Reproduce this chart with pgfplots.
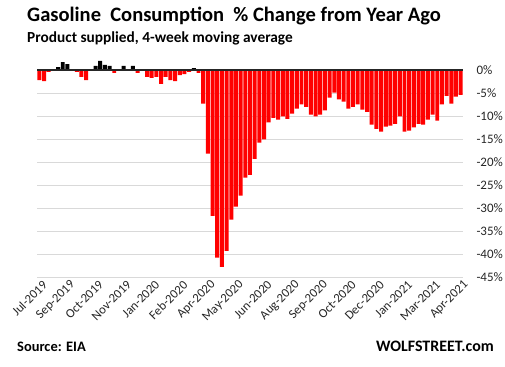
\documentclass[border=0pt]{standalone}
\usepackage{pgfplots}
\pgfplotsset{compat=1.18}
\usepackage{fontspec}
\setmainfont{Carlito}
\definecolor{gridgray}{HTML}{D9D9D9}
\definecolor{barred}{HTML}{FF0000}
\begin{document}
\begin{tikzpicture}[x=1bp,y=1bp]
\path[use as bounding box] (0,0) rectangle (505,366);
\begin{axis}[
  at={(37bp,89bp)}, anchor=south west,
  scale only axis, width=426bp, height=218.5bp,
  xmin=-0.5, xmax=90.5, ymin=-45, ymax=2.5,
  axis line style={draw=none},
  major tick length=0pt,
  ytick={-45,-40,-35,-30,-25,-20,-15,-10,-5,0},
  yticklabels={-45\%,-40\%,-35\%,-30\%,-25\%,-20\%,-15\%,-10\%,-5\%,0\%},
  yticklabel pos=right,
  yticklabel style={anchor=west, xshift=10bp, font=\fontsize{13}{13}\selectfont, text=black!85},
  ymajorgrids, grid style={draw=gridgray, line width=0.9bp},
  xtick={0,6,...,90},
  xticklabels={Jul-2019,Sep-2019,Oct-2019,Nov-2019,Jan-2020,Feb-2020,Apr-2020,May-2020,Jun-2020,Aug-2020,Sep-2020,Oct-2020,Dec-2020,Jan-2021,Mar-2021,Apr-2021},
  xticklabel style={rotate=45, anchor=east, yshift=-8bp, xshift=1bp, inner sep=1pt, font=\fontsize{12.8}{12.8}\selectfont, text=black!85},
  clip=false,
]
\addplot[ybar, bar width=0.85, bar shift=0pt, fill=black, draw=none] coordinates {
(4,0.65) (5,1.7) (6,1.3) (12,0.9) (13,2.0) (14,1.1) (15,0.9) (18,0.9) (20,0.9) (33,0.4)
};
\addplot[ybar, bar width=0.85, bar shift=0pt, fill=barred, draw=none] coordinates {
(0,-2.2) (1,-2.4) (2,-0.4) (8,-0.4) (9,-1.5) (10,-2.2) (16,-0.6) (21,-0.6)
(23,-1.5) (24,-1.7) (25,-1.5) (26,-3.0) (27,-1.5) (28,-2.2) (29,-2.4) (30,-1.1)
(31,-0.9) (32,-0.4) (34,-0.65) (35,-7.3) (36,-18.2) (37,-31.7) (38,-40.8) (39,-42.8)
(40,-39.3) (41,-32.5) (42,-29.7) (43,-27.3) (44,-23.4) (45,-22.8) (46,-19.3) (47,-15.8)
(48,-15.1) (49,-11.4) (50,-10.4) (51,-10.8) (52,-10.1) (53,-10.6) (54,-9.5) (55,-8.4)
(56,-7.5) (57,-8.0) (58,-9.7) (59,-10.1) (60,-9.7) (61,-8.8) (62,-6.0) (63,-4.9)
(64,-6.4) (65,-6.9) (66,-8.4) (67,-8.0) (68,-7.5) (69,-8.6) (70,-9.1) (71,-11.9)
(72,-12.8) (73,-13.4) (74,-12.3) (75,-12.1) (76,-11.7) (77,-10.1) (78,-13.4) (79,-13.2)
(80,-12.5) (81,-11.7) (82,-11.9) (83,-10.8) (84,-9.7) (85,-11.0) (86,-7.5) (87,-5.6)
(88,-7.3) (89,-5.8) (90,-5.4)
};
\addplot[black!85, line width=1.8bp, forget plot] coordinates {(-0.5,0) (90.5,0)};
\end{axis}
\node[anchor=base west, inner sep=0pt, font=\bfseries\fontsize{20.6}{20.6}\selectfont] at (27,344.3) {Gasoline\ \ Consumption\ \ \% Change from Year Ago};
\node[anchor=base west, inner sep=0pt, font=\bfseries\fontsize{15.4}{15.4}\selectfont] at (27,323.7) {Product supplied, 4-week moving average};
\node[anchor=base west, inner sep=0pt, font=\bfseries\fontsize{14.5}{14.5}\selectfont] at (17,14.5) {Source: EIA};
\node[anchor=base east, inner sep=0pt, font=\bfseries\fontsize{16}{16}\selectfont] at (494,14.5) {WOLFSTREET.com};
\end{tikzpicture}
\end{document}
